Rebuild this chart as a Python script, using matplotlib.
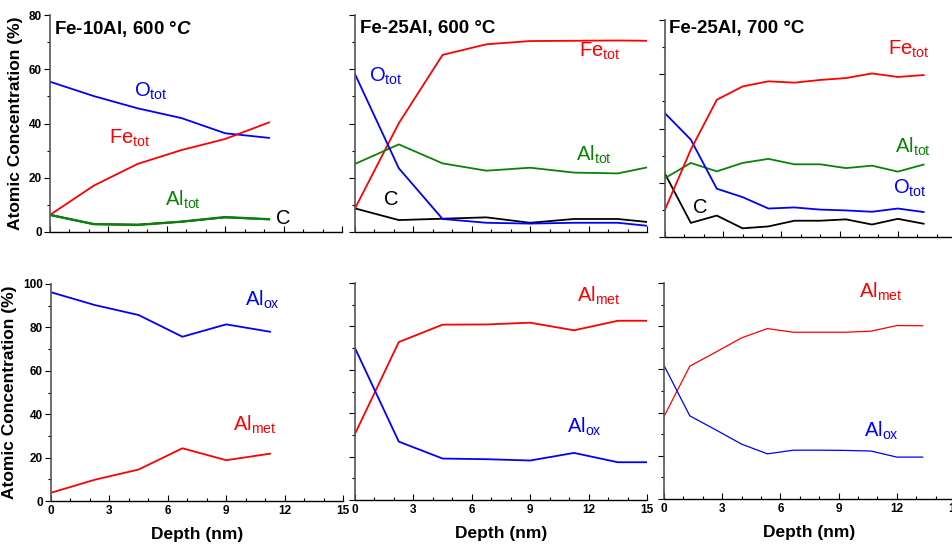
import numpy as np
import matplotlib
matplotlib.use("Agg")
import matplotlib.pyplot as plt
from matplotlib.ticker import MultipleLocator

plt.rcParams['font.family'] = ['Liberation Sans', 'DejaVu Sans']
plt.rcParams['mathtext.fontset'] = 'custom'
plt.rcParams['mathtext.it'] = 'Liberation Sans:italic:bold'
plt.rcParams['mathtext.rm'] = 'Liberation Sans'

# depth scales (nm)
d_10_600 = [0, 2.25, 4.5, 6.75, 9.0, 11.25]
d_25_600 = [0, 2.25, 4.5, 6.75, 9.0, 11.25, 13.5, 15.0]
d_25_700 = [0, 1.33, 2.67, 4.0, 5.33, 6.67, 8.0, 9.33, 10.67, 12.0, 13.33]

# top row: total concentrations
fe_10_600 = [6.3, 17.1, 25.1, 30.2, 34.3, 40.4]
o_10_600 = [55.4, 50.1, 45.6, 42.0, 36.4, 34.7]
al_10_600 = [6.3, 2.9, 2.6, 3.8, 5.5, 4.7]
c_10_600 = [6.3, 2.9, 2.7, 3.8, 5.4, 4.7]

fe_25_600 = [8.7, 40.1, 65.3, 69.2, 70.4, 70.5, 70.6, 70.5]
o_25_600 = [58.2, 23.5, 4.8, 3.4, 3.1, 3.4, 3.4, 2.3]
al_25_600 = [25.1, 32.3, 25.3, 22.6, 23.7, 21.9, 21.6, 23.8]
c_25_600 = [8.7, 4.4, 4.9, 5.4, 3.4, 4.8, 4.8, 3.7]

fe_25_700 = [10.1, 32.2, 50.6, 55.5, 57.4, 56.9, 57.9, 58.6, 60.3, 59.0, 59.7]
o_25_700 = [45.6, 35.9, 17.8, 14.7, 10.5, 10.9, 10.1, 9.8, 9.3, 10.5, 9.2]
al_25_700 = [21.7, 27.3, 24.2, 27.3, 28.8, 26.8, 26.8, 25.4, 26.3, 24.1, 26.7]
c_25_700 = [23.3, 5.2, 7.9, 3.2, 3.9, 6.0, 6.0, 6.5, 4.6, 6.7, 4.9]

# bottom row: aluminium oxide / metal fractions
alox_10_600 = [96.2, 90.3, 85.7, 75.7, 81.4, 78.0]
almet_10_600 = [3.8, 9.8, 14.5, 24.3, 18.8, 21.8]

alox_25_600 = [70.0, 26.9, 19.1, 18.8, 18.2, 21.7, 17.4, 17.4]
almet_25_600 = [30.5, 72.8, 80.8, 80.9, 81.7, 78.2, 82.6, 82.6]

alox_25_700 = [61.8, 38.5, 32.0, 25.4, 20.9, 22.6, 22.6, 22.5, 22.2, 19.4, 19.4]
almet_25_700 = [38.2, 61.5, 68.0, 74.6, 78.9, 77.2, 77.2, 77.2, 77.7, 80.3, 80.2]

titles = ["Fe-10Al, 600 °$\\mathit{C}$", "Fe-25Al, 600 °C", "Fe-25Al, 700 °C"]

RED = '#ff0000'
BLUE = '#0000ff'
GREEN = '#0a820a'

fig = plt.figure(figsize=(9.52, 5.46), dpi=100)
W, H = 952, 546


def mkax(left, top, right, bottom):
    return fig.add_axes([left / W, 1 - bottom / H, (right - left) / W, (bottom - top) / H])


ax1 = mkax(50, 15, 342, 232)
ax2 = mkax(355, 15, 647, 232)
ax3 = mkax(665, 20, 956, 237)
ax4 = mkax(51, 284, 343, 501)
ax5 = mkax(355, 283, 647, 500)
ax6 = mkax(664, 283, 955, 499)

for i, ax in enumerate([ax1, ax2, ax3, ax4, ax5, ax6]):
    ax.spines['top'].set_visible(False)
    ax.spines['right'].set_visible(False)
    ax.spines['left'].set_color('#555555')
    ax.spines['left'].set_linewidth(1.2)
    ax.spines['bottom'].set_linewidth(1.0)
    ax.set_xlim(0, 15)
    ax.xaxis.set_major_locator(MultipleLocator(3))
    ax.xaxis.set_minor_locator(MultipleLocator(1))
    ax.tick_params(axis='x', which='major', direction='in', length=4, width=0.8, labelsize=8.5, pad=3)
    ax.tick_params(axis='x', which='minor', direction='in', length=2.5, width=0.8)
    ax.tick_params(axis='y', which='major', direction='out', length=4, width=0.8, labelsize=8.5, pad=2)
    ax.tick_params(axis='y', which='minor', direction='out', length=2.5, width=0.8)
    if i < 3:
        ax.set_ylim(0, 80)
        ax.yaxis.set_major_locator(MultipleLocator(20))
        ax.yaxis.set_minor_locator(MultipleLocator(10))
        ax.tick_params(axis='x', labelbottom=False)
    else:
        ax.set_ylim(0, 100)
        ax.yaxis.set_major_locator(MultipleLocator(20))
        ax.yaxis.set_minor_locator(MultipleLocator(10))
        ax.set_xlabel("Depth (nm)", fontsize=12.5, fontweight='bold', labelpad=7)
    if i not in (0, 3):
        ax.tick_params(axis='y', labelleft=False)
    else:
        ax.set_ylabel("Atomic Concentration (%)", fontsize=12.5, fontweight='bold', labelpad=4)
    for lab in ax.get_xticklabels() + ax.get_yticklabels():
        lab.set_fontweight('bold')

lw = 1.3
fs = 14.5

# panel 1
ax1.plot(d_10_600, c_10_600, color='black', lw=lw)
ax1.plot(d_10_600, o_10_600, color=BLUE, lw=lw)
ax1.plot(d_10_600, fe_10_600, color=RED, lw=lw)
ax1.plot(d_10_600, al_10_600, color=GREEN, lw=lw + 0.4)
ax1.text(0.22, 75, titles[0], fontsize=13.5, fontweight='bold', va='center')
ax1.text(4.3, 51.7, r"O$_\mathregular{tot}$", color=BLUE, fontsize=fs, va='center')
ax1.text(3.05, 34.6, r"Fe$_\mathregular{tot}$", color=RED, fontsize=fs, va='center')
ax1.text(5.9, 11.8, r"Al$_\mathregular{tot}$", color=GREEN, fontsize=fs, va='center')
ax1.text(11.6, 4.8, "C", color='black', fontsize=fs, va='center')

# panel 2
ax2.plot(d_25_600, fe_25_600, color=RED, lw=lw)
ax2.plot(d_25_600, al_25_600, color=GREEN, lw=lw)
ax2.plot(d_25_600, c_25_600, color='black', lw=lw)
ax2.plot(d_25_600, o_25_600, color=BLUE, lw=lw)
ax2.text(0.26, 75, titles[1], fontsize=13.5, fontweight='bold', va='center')
ax2.text(11.5, 66.5, r"Fe$_\mathregular{tot}$", color=RED, fontsize=fs, va='center')
ax2.text(0.7, 57.3, r"O$_\mathregular{tot}$", color=BLUE, fontsize=fs, va='center')
ax2.text(11.35, 28.4, r"Al$_\mathregular{tot}$", color=GREEN, fontsize=fs, va='center')
ax2.text(1.5, 11.8, "C", color='black', fontsize=fs, va='center')

# panel 3
ax3.plot(d_25_700, c_25_700, color='black', lw=lw)
ax3.plot(d_25_700, al_25_700, color=GREEN, lw=lw)
ax3.plot(d_25_700, o_25_700, color=BLUE, lw=lw)
ax3.plot(d_25_700, fe_25_700, color=RED, lw=lw)
ax3.text(0.21, 77, titles[2], fontsize=13.5, fontweight='bold', va='center')
ax3.text(11.5, 69.3, r"Fe$_\mathregular{tot}$", color=RED, fontsize=fs, va='center')
ax3.text(11.85, 33.4, r"Al$_\mathregular{tot}$", color=GREEN, fontsize=fs, va='center')
ax3.text(11.75, 17.8, r"O$_\mathregular{tot}$", color=BLUE, fontsize=fs, va='center')
ax3.text(1.43, 10.7, "C", color='black', fontsize=fs, va='center')

# panel 4
ax4.plot(d_10_600, alox_10_600, color=BLUE, lw=lw)
ax4.plot(d_10_600, almet_10_600, color=RED, lw=lw)
ax4.text(9.95, 92.6, r"Al$_\mathregular{ox}$", color=BLUE, fontsize=fs, va='center')
ax4.text(9.35, 34.9, r"Al$_\mathregular{met}$", color=RED, fontsize=fs, va='center')

# panel 5
ax5.plot(d_25_600, almet_25_600, color=RED, lw=lw)
ax5.plot(d_25_600, alox_25_600, color=BLUE, lw=lw)
ax5.text(11.4, 94.2, r"Al$_\mathregular{met}$", color=RED, fontsize=fs, va='center')
ax5.text(10.9, 33.8, r"Al$_\mathregular{ox}$", color=BLUE, fontsize=fs, va='center')

# panel 6
ax6.plot(d_25_700, almet_25_700, color=RED, lw=0.9)
ax6.plot(d_25_700, alox_25_700, color=BLUE, lw=0.9)
ax6.text(10.05, 95.8, r"Al$_\mathregular{met}$", color=RED, fontsize=fs, va='center')
ax6.text(10.3, 31.7, r"Al$_\mathregular{ox}$", color=BLUE, fontsize=fs, va='center')

fig.savefig("out.png", dpi=100)
